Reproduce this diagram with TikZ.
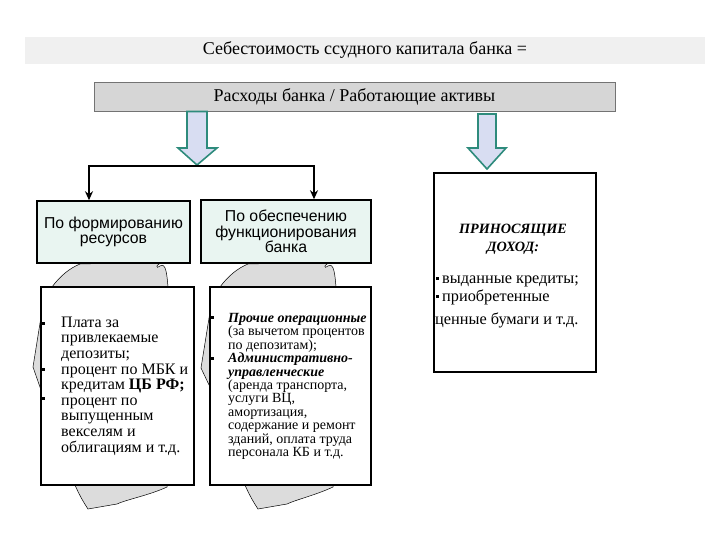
\documentclass[tikz,border=0pt]{standalone}
\usepackage{fontspec}
\setmainfont{Liberation Serif}
\newfontfamily\arialf{Liberation Sans}
\usetikzlibrary{arrows.meta}
\definecolor{bandgray}{HTML}{F0F0F0}
\definecolor{boxgray}{HTML}{D6D6D6}
\definecolor{arrowfill}{HTML}{D8DDF2}
\definecolor{arrowedge}{HTML}{2E8B7C}
\definecolor{mint}{HTML}{E9F5F1}
\definecolor{blobgray}{HTML}{DCDCDC}
\tikzset{
  blockarrow/.style={fill=arrowfill,draw=arrowedge,line width=1.6pt,line join=miter},
  bracketline/.style={line width=2.6pt},
  hdr/.style={draw,line width=1.5pt,fill=mint,align=center,inner sep=0pt,font=\arialf\fontsize{15.8}{15.5}\selectfont},
  cbox/.style={draw,line width=1.5pt,fill=white,inner sep=0pt},
  blob/.style={fill=blobgray,draw=black,line width=0.5pt},
  sq/.style={fill=black,inner sep=0pt,minimum size=3pt},
  txt/.style={inner sep=0pt,align=left},
}
\begin{document}
\begin{tikzpicture}[x=1pt,y=-1pt]
\useasboundingbox (0,0) rectangle (720,540);
% title band
\node[fill=bandgray,minimum width=680pt,minimum height=27pt,inner sep=0pt,font=\fontsize{18}{18}\selectfont] (band) at (365,50.5) {Себестоимость ссудного капитала банка =};
\node[fill=boxgray,draw=black!55,line width=0.6pt,minimum width=521pt,minimum height=29pt,inner sep=0pt,font=\fontsize{18}{18}\selectfont] (exp) at (354.5,96.5) {Расходы банка / Работающие активы};
% block arrows
\draw[blockarrow] (187,111.5) -- (207,111.5) -- (207,148) -- (217,148) -- (197,165) -- (178,148) -- (187,148) -- cycle;
\draw[blockarrow] (478,114) -- (496,114) -- (496,148) -- (506,148) -- (487,169) -- (468,148) -- (478,148) -- cycle;
% blobs behind content boxes
\draw[blob] (52,287) .. controls (60,276) and (70,268) .. (80,264) -- (165,262)
  .. controls (154,264) and (156,270) .. (160,266) .. controls (166,262) and (167,275) .. (168,287)
  -- (167,487) .. controls (150,495) and (125,500) .. (117,504) -- (88,509) .. controls (82,500) and (78,492) .. (75,485)
  -- (41,390) -- (33,367) -- (41,317) -- cycle;
\draw[blob] (220,287) .. controls (228,276) and (238,268) .. (248,264) -- (333,262)
  .. controls (322,264) and (324,270) .. (328,266) .. controls (334,262) and (335,275) .. (336,287)
  -- (333,487) .. controls (316,495) and (295,500) .. (287,504) -- (258,509) .. controls (252,500) and (248,492) .. (245,485)
  -- (210,387) -- (201,368) -- (210,312) -- cycle;
% header boxes
\node[hdr,minimum width=153pt,minimum height=62pt] (hdrL) at (113.5,232) {\fontsize{15.8}{20}\selectfont По формированию\\ресурсов};
\node[hdr,minimum width=170pt,minimum height=63pt] (hdrM) at (286,231.5) {По обеспечению\\функционирования\\банка};
% bracket
\coordinate (split) at (197,166);
\coordinate (lv) at (89,166);
\coordinate (rv) at (314,166);
\draw[bracketline,line cap=rect] (lv) -- (rv);
\draw[bracketline,-{Stealth[length=9pt,width=8pt]}] (lv) -- (hdrL.north -| lv);
\draw[bracketline,-{Stealth[length=9pt,width=8pt]}] (rv) -- (hdrM.north -| rv);
% content boxes
\node[cbox,minimum width=153pt,minimum height=198pt] (cL) at (117.5,386) {};
\node[cbox,minimum width=161pt,minimum height=198pt] (cM) at (290.5,386) {};
\node[cbox,line width=2pt,minimum width=162pt,minimum height=199pt] (cR) at (515,272.5) {};
% left text
\node[txt,anchor=west,font=\fontsize{16}{15.6}\selectfont] (tL) at (61,386) {Плата за\\привлекаемые\\депозиты;\\процент по МБК и\\кредитам \textbf{ЦБ РФ;}\\процент по\\выпущенным\\векселям и\\облигациям и т.д.};
\node[sq] (bL1) at (43,323) {};
\node[sq] (bL2) at (43,369) {};
\node[sq] (bL3) at (43,398) {};
% middle text
\node[txt,anchor=west,font=\fontsize{14}{13.4}\selectfont] (tM) at (228,386.5) {\textbf{\textit{Прочие операционные}}\\(за вычетом процентов\\по депозитам);\\\textbf{\textit{Административно-}}\\\textbf{\textit{управленческие}}\\(аренда транспорта,\\услуги ВЦ,\\амортизация,\\содержание и ремонт\\зданий, оплата труда\\персонала КБ и т.д.};
\node[sq] (bM1) at (212,317) {};
\node[sq] (bM2) at (212,358) {};
% right text
\node[inner sep=0pt,align=center,font=\bfseries\itshape\fontsize{14.2}{18}\selectfont] (tRh) at (513,239) {ПРИНОСЯЩИЕ\\ДОХОД:};
\node[txt,anchor=north west,font=\fontsize{16.3}{18}\selectfont] (tR) at (442,276) {выданные кредиты;\\приобретенные};
\node[txt,anchor=north west,font=\fontsize{16.3}{18}\selectfont] (tR2) at (435,313) {ценные бумаги и т.д.};
\node[sq] (bR1) at (437,278.5) {};
\node[sq] (bR2) at (437,296.5) {};
\end{tikzpicture}
\end{document}
